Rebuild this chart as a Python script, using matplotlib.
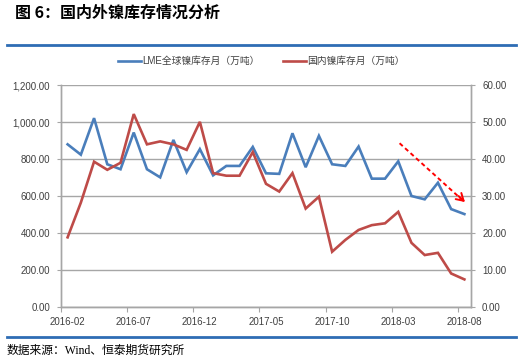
import matplotlib
matplotlib.use('Agg')
import matplotlib.pyplot as plt
import numpy as np
import pandas as pd

plt.rcParams['font.family'] = ['Liberation Sans', 'Noto Sans CJK SC']

# monthly categories 2016-02 .. 2018-08
months = pd.date_range('2016-02-01', periods=31, freq='MS').strftime('%Y-%m').tolist()

# LME global nickel stock (left axis)
lme_stock = [880, 824, 1022, 772, 745, 944, 745, 701, 904, 729,
             854, 712, 763, 763, 866, 723, 720, 940, 756, 926,
             772, 763, 868, 694, 694, 788, 600, 582, 672, 529,
             502]
# domestic nickel stock (right axis)
cn_stock = [18.8, 28.2, 39.3, 37.1, 39.0, 52.2, 44.0, 44.8, 44.0, 42.5,
            50.1, 36.2, 35.5, 35.5, 41.9, 33.3, 31.2, 36.2, 26.6, 29.8,
            14.9, 18.1, 20.8, 22.1, 22.6, 25.7, 17.3, 14.0, 14.6, 9.0,
            7.4]

lme_label = 'LME全球镍库存月（万吨）'
cn_label = '国内镍库存月（万吨）'

blue = '#4A7EBB'
red = '#BE4B48'
grid_c = '#A6A6A6'
txt_c = '#404040'

fig = plt.figure(figsize=(5.24, 3.61), dpi=100)
ax = fig.add_axes([61/524, 1-306.7/361, 410/524, 221.4/361])
ax2 = ax.twinx()

x = np.arange(len(months))
l1, = ax.plot(x, lme_stock, color=blue, lw=1.9, solid_joinstyle='miter', zorder=3)
l2, = ax2.plot(x, cn_stock, color=red, lw=1.9, solid_joinstyle='miter', zorder=3)

ax.set_xlim(-0.5, len(months) - 0.5)
ax.set_ylim(0, 1200)
ax2.set_ylim(0, 60)
ax.set_yticks(np.arange(0, 1201, 200))
ax2.set_yticks(np.arange(0, 61, 10))
ax.set_yticklabels([f'{v:,.2f}' for v in np.arange(0, 1201, 200)])
ax2.set_yticklabels([f'{v:.2f}' for v in np.arange(0, 61, 10)])

# ticks between categories, labels on every 5th month
ax.set_xticks(np.arange(-0.5, len(months), 5))
ax.set_xticklabels([])
ax.set_xticks(x[::5], minor=True)
ax.set_xticklabels(months[::5], minor=True)
ax.tick_params(axis='x', which='major', length=3.5, color=grid_c)
ax.tick_params(axis='x', which='minor', length=0, pad=7.5, labelsize=7, labelcolor=txt_c)
ax.tick_params(axis='y', length=3, color=grid_c, labelsize=7, labelcolor=txt_c, pad=5)
ax2.tick_params(axis='y', length=3, color=grid_c, labelsize=7, labelcolor=txt_c, pad=5)

ax.grid(axis='y', color=grid_c, lw=1)
ax.set_axisbelow(True)
for a in (ax, ax2):
    a.spines['top'].set_visible(False)
    for s in ('left', 'right', 'bottom'):
        a.spines[s].set_color(grid_c)
        a.spines[s].set_linewidth(1)

# trend arrow
ax.plot([25.1, 30.0], [886, 568], color='red', lw=1.4, ls=(0, (2.2, 1.6)), zorder=4)
ax.annotate('', xy=(30.2, 557), xytext=(29.4, 610),
            arrowprops=dict(arrowstyle='->,head_length=0.5,head_width=0.3',
                            color='red', lw=1.4), zorder=4)

fig.legend([l1, l2], [lme_label, cn_label], loc='center', bbox_to_anchor=(261/524, 1-61/361),
           ncol=2, frameon=False, fontsize=7, handlelength=2.4, handletextpad=0.1,
           columnspacing=2.4, labelcolor=txt_c)

fig.text(15/524, 1-13/361, '图 6：国内外镍库存情况分析', fontsize=11.5, fontweight='bold',
         family=['Noto Sans CJK SC'], va='center', ha='left', color='black')
fig.text(7/524, 1-350.5/361, '数据来源：Wind、恒泰期货研究所', fontsize=8.5,
         family=['Liberation Serif', 'Noto Sans CJK SC'], va='center', ha='left', color='black')

# blue rules above and below the chart
fig.add_artist(plt.Line2D([7/524, 516/524], [1-44.7/361]*2, color='#2E6DB4', lw=2))
fig.add_artist(plt.Line2D([7/524, 516/524], [1-336.7/361]*2, color='#2E6DB4', lw=2))

fig.savefig('out.png', dpi=100)
